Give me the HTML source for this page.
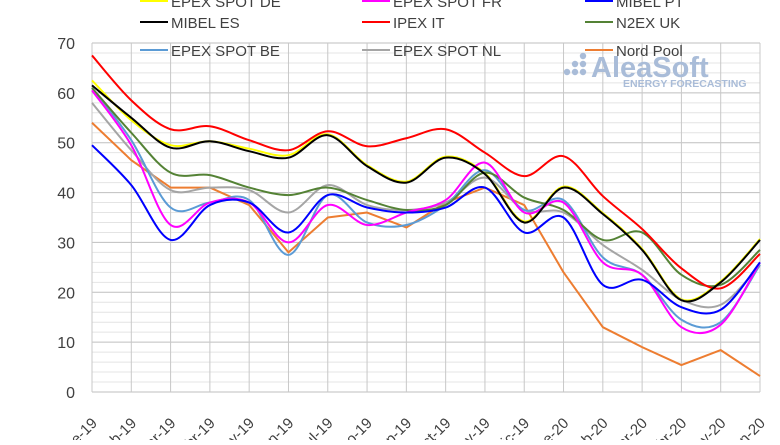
<!DOCTYPE html>
<html><head><meta charset="utf-8"><style>
body{margin:0;background:#fff;width:780px;height:440px;overflow:hidden;font-family:"Liberation Sans",sans-serif}
</style></head><body>
<svg id="chart" width="780" height="440" xmlns="http://www.w3.org/2000/svg" font-family="Liberation Sans, sans-serif">
<g id="grid"></g>
<g id="wm" fill="#a9bcd8">
<circle cx="567" cy="72" r="3.2"/><circle cx="575" cy="72" r="3.2"/><circle cx="583" cy="72" r="3.2"/><circle cx="575" cy="64" r="3.2"/><circle cx="583" cy="64" r="3.2"/><circle cx="583" cy="56" r="3.2"/>
<text x="591" y="77" font-size="29" font-weight="bold">AleaSoft</text>
<text x="623" y="87" font-size="10.5" font-weight="bold">ENERGY FORECASTING</text>
</g>
<g id="lines"></g>
<g id="yt" font-size="16" fill="#404040" text-anchor="end"></g>
<g id="xt" font-size="15" fill="#404040" text-anchor="end"></g>
<g id="legend" font-size="15" fill="#404040"></g>
</svg>
<script>
const months=["ene-19","feb-19","mar-19","abr-19","may-19","jun-19","jul-19","ago-19","sep-19","oct-19","nov-19","dic-19","ene-20","feb-20","mar-20","abr-20","may-20","jun-20"];
const yTicks=[0,10,20,30,40,50,60,70];
const names=["EPEX SPOT DE","EPEX SPOT FR","MIBEL PT","MIBEL ES","IPEX IT","N2EX UK","EPEX SPOT BE","EPEX SPOT NL","Nord Pool"];
const colors=["#ffff00","#ff00ff","#0000ff","#000000","#ff0000","#548235","#5b9bd5","#a5a5a5","#ed7d31"];
const de=[62.5,54.5,49.5,50.3,48.8,47.5,51.7,45.5,42.2,47.2,43.9,34.2,41.2,35.9,28.7,18.6,22.2,30.7];
const fr=[60.5,49.5,33.5,38,38,30,37.5,33.5,36,38.5,46,36,38,26,23.5,13,13.5,26];
const pt=[49.5,41.5,30.5,37.5,38,32,39.5,37,36,37,41,32,35,21.5,22.5,17,16.5,26];
const es=[61.5,55,49,50.3,48.3,47,51.5,45.3,42,47,43.7,34,41,35.7,28.5,18.4,22,30.5];
const it=[67.5,58.5,52.7,53.3,50.5,48.5,52.3,49.3,50.9,52.7,48,43.3,47.3,39.3,32.7,24.8,20.8,27.7];
const uk=[61,52,44,43.5,41,39.5,41,38.5,36.5,37.5,44,39,36.5,30.5,32,23.5,21.5,28.5];
const be=[61,50.5,37,38,38.5,27.5,39.5,34,33.5,37.5,44.5,36.5,38.5,27,23.5,14.5,14,25.5];
const nl=[58,48.5,40.5,41,40.5,36,41.5,37.5,36.5,38,43,36.5,36,29.5,24.5,18.5,17.5,25.5];
const np=[54,46.5,41,41,37.5,28,35,36,33,38,41,37.5,24,13,9,5.4,8.4,3.2];
const series=[de,fr,pt,es,it,uk,be,nl,np];
const X0=92,X1=760,Y0=392,Y70=43;
const xs=i=>X0+i*(X1-X0)/(months.length-1);
const ys=v=>Y0-(v/70)*(Y0-Y70);
const NS="http://www.w3.org/2000/svg";
function mk(t,a,p){const e=document.createElementNS(NS,t);for(const k in a)e.setAttribute(k,a[k]);p.appendChild(e);return e;}
const grid=document.getElementById('grid');
for(let v=0;v<=70;v+=2){const l=mk('line',{x1:X0,x2:X1,y1:ys(v),y2:ys(v),stroke:v%10==0?'#bfbfbf':'#e4e4e4','stroke-width':1},grid);

}
months.forEach((m,i)=>{const l=mk('line',{x1:xs(i),x2:xs(i),y1:Y70,y2:Y0,stroke:'#c8c8c8','stroke-width':1},grid);

});
const yt=document.getElementById('yt');
yTicks.forEach(v=>{const t=mk('text',{x:75,y:ys(v)+6},yt);t.textContent=v;

});
const xt=document.getElementById('xt');
months.forEach((m,i)=>{const t=mk('text',{x:xs(i)+6,y:424,transform:`rotate(-45 ${xs(i)+6} 424)`},xt);t.textContent=m;

});
function smooth(pts){let d=`M${pts[0][0]},${pts[0][1]}`;for(let i=0;i<pts.length-1;i++){const p0=pts[i-1]||pts[i],p1=pts[i],p2=pts[i+1],p3=pts[i+2]||p2;const t=6;
d+=` C${p1[0]+(p2[0]-p0[0])/t},${p1[1]+(p2[1]-p0[1])/t} ${p2[0]-(p3[0]-p1[0])/t},${p2[1]-(p3[1]-p1[1])/t} ${p2[0]},${p2[1]}`;}return d;}
const lines=document.getElementById('lines');
const order=[0,8,7,6,5,1,2,4,3];
order.forEach(k=>{const pts=series[k].map((v,i)=>[xs(i),ys(v)]);
const d=k==8?'M'+pts.map(p=>p.join(',')).join(' L'):smooth(pts);
const p=mk('path',{d:d,fill:'none',stroke:colors[k],'stroke-width':2,'stroke-linejoin':'round'},lines);

});
const lg=document.getElementById('legend');
const colX=[140,362,585],rowY=[1,22,50];
names.forEach((n,i)=>{const c=colX[i%3],r=rowY[Math.floor(i/3)];
const g=mk('g',{},lg);


mk('line',{x1:c,x2:c+28,y1:r,y2:r,stroke:colors[i],'stroke-width':2},g);
const t=mk('text',{x:c+31,y:r+6},g);t.textContent=n;});
</script>
</body></html>
